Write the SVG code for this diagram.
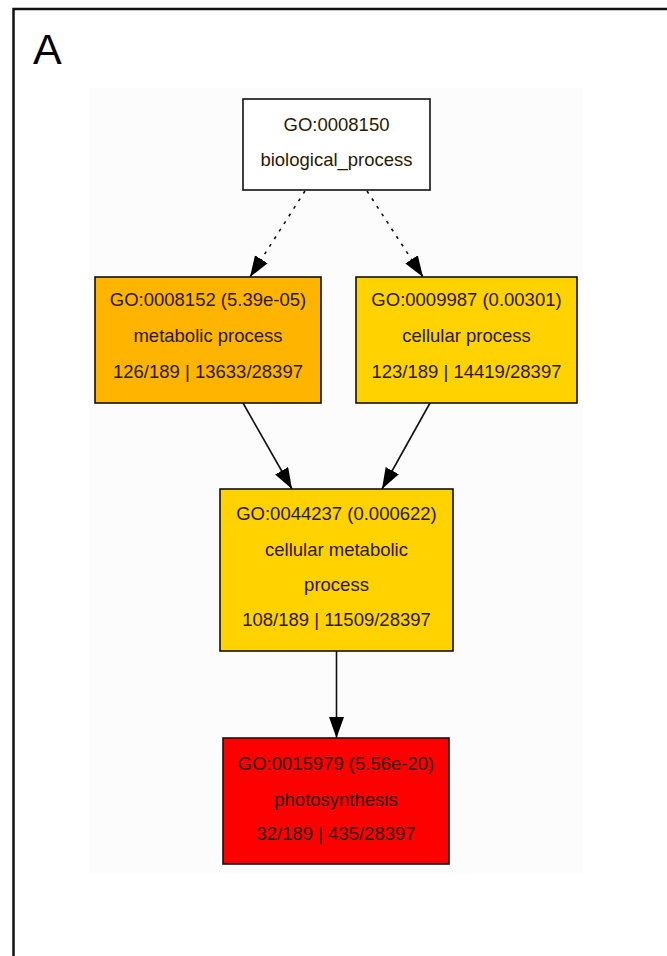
<svg xmlns="http://www.w3.org/2000/svg" width="667" height="956" viewBox="0 0 667 956">
<style>
.node rect{stroke:#111;stroke-width:1.6}
.t{font-family:"Liberation Sans",Arial,sans-serif;font-size:18.5px;text-anchor:middle;fill:#2a1a00}
.edge{stroke:#111;stroke-width:1.6;fill:none}
.dot{stroke-dasharray:3 6}
</style>
<defs>
<marker id="ah" markerUnits="userSpaceOnUse" markerWidth="22" markerHeight="16" refX="21" refY="7.5" orient="auto">
<path d="M0,0 L21,7.5 L0,15 z" fill="#000"/>
</marker>
</defs>
<rect x="0" y="0" width="667" height="956" fill="#fff"/>
<rect x="89" y="88" width="494" height="785" fill="#fcfcfc"/>
<path d="M13.5,958 L13.5,9 L669,9" fill="none" stroke="#111" stroke-width="2.5"/>
<text x="33" y="64" font-family="Liberation Sans,Arial,sans-serif" font-size="43" fill="#000">A</text>
<g id="connectors">
<line class="edge dot" x1="305" y1="191" x2="250" y2="277" marker-end="url(#ah)"/>
<line class="edge dot" x1="367" y1="191" x2="423" y2="277" marker-end="url(#ah)"/>
<line class="edge" x1="243" y1="403" x2="292" y2="489" marker-end="url(#ah)"/>
<line class="edge" x1="430" y1="403" x2="382" y2="489" marker-end="url(#ah)"/>
<line class="edge" x1="336.5" y1="651" x2="336.5" y2="738" marker-end="url(#ah)"/>
</g>
<g id="GO0008150" class="node">
<rect x="243" y="99" width="187" height="91" fill="#fff"/>
<text class="t" x="336.5" y="131" fill="#222">GO:0008150</text>
<text class="t" x="336.5" y="166" fill="#222">biological_process</text>
</g>
<g id="GO0008152" class="node">
<rect x="95" y="277" width="226" height="126" fill="#ffb400"/>
<text class="t" x="208" y="306">GO:0008152 (5.39e-05)</text>
<text class="t" x="208" y="342">metabolic process</text>
<text class="t" x="208" y="378">126/189 | 13633/28397</text>
</g>
<g id="GO0009987" class="node">
<rect x="356" y="277" width="221" height="126" fill="#ffd200"/>
<text class="t" x="466.5" y="306">GO:0009987 (0.00301)</text>
<text class="t" x="466.5" y="342">cellular process</text>
<text class="t" x="466.5" y="378">123/189 | 14419/28397</text>
</g>
<g id="GO0044237" class="node">
<rect x="220" y="489" width="233" height="162" fill="#ffd200"/>
<text class="t" x="336.5" y="520">GO:0044237 (0.000622)</text>
<text class="t" x="336.5" y="556">cellular metabolic</text>
<text class="t" x="336.5" y="591">process</text>
<text class="t" x="336.5" y="626">108/189 | 11509/28397</text>
</g>
<g id="GO0015979" class="node">
<rect x="223" y="738" width="226" height="126" fill="#ff0000"/>
<text class="t" x="336" y="770" fill="#3a0000">GO:0015979 (5.56e-20)</text>
<text class="t" x="336" y="806" fill="#3a0000">photosynthesis</text>
<text class="t" x="336" y="840" fill="#3a0000">32/189 | 435/28397</text>
</g>
</svg>
